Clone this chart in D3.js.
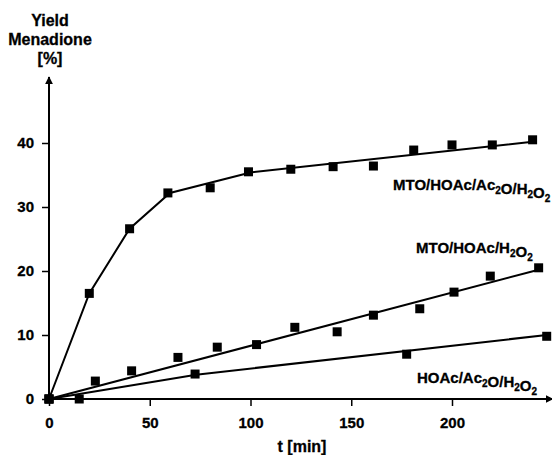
<!DOCTYPE html>
<meta charset="utf-8">
<style>
body { margin: 0; background: #fff; }
text { font-family: "Liberation Sans", Arial, sans-serif; font-weight: bold; fill: #000; stroke: #000; stroke-width: 0.3px; }
.fit { fill: none; stroke: #000; stroke-width: 2px; }
.tick line { stroke: #000; stroke-width: 1.5px; }
</style>
<body>
<script src="https://cdnjs.cloudflare.com/ajax/libs/d3/7.8.5/d3.min.js"></script>
<script>

// ---- data ----
// MTO/HOAc/Ac2O/H2O2
var t1 = [0, 20, 40, 59, 80, 99, 120, 141, 161, 181, 200, 220, 240];
var y1 = [0, 16.5, 26.6, 32.2, 33.0, 35.5, 35.9, 36.3, 36.4, 38.9, 39.7, 39.7, 40.5];
var fitT1 = [0, 20, 40, 60, 100, 240];
var fitY1 = [0, 16.5, 26.6, 32.2, 35.4, 40.2];

// MTO/HOAc/H2O2
var t2 = [0, 23, 41, 64, 83.5, 103, 122, 143, 161, 184, 201, 219, 243];
var y2 = [0, 2.8, 4.4, 6.5, 8.1, 8.5, 11.2, 10.5, 13.1, 14.1, 16.7, 19.2, 20.5];
var fitT2 = [0, 243];
var fitY2 = [0, 20.2];

// HOAc/Ac2O/H2O2
var t3 = [0, 15, 72.5, 177.5, 247];
var y3 = [0, 0, 3.9, 7.0, 9.8];
var fitT3 = [0, 73, 247];
var fitY3 = [0, 3.8, 10.0];

var xTicks = [0, 50, 100, 150, 200];
var yTicks = [0, 10, 20, 30, 40];

var width = 552, height = 455;

var svg = d3.select("body").append("svg")
    .attr("width", width)
    .attr("height", height);

var x = d3.scaleLinear().domain([0, 200]).range([49, 452]);
var y = d3.scaleLinear().domain([0, 40]).range([399, 143]);

// arrow head
svg.append("defs").append("marker")
    .attr("id", "arrow")
    .attr("viewBox", "0 0 10 10")
    .attr("refX", 9).attr("refY", 5)
    .attr("markerWidth", 4).attr("markerHeight", 4)
    .attr("markerUnits", "strokeWidth")
    .attr("orient", "auto")
  .append("path")
    .attr("d", "M0,0 L10,5 L0,10 z")
    .attr("fill", "#000");

// axes with ticks
var xAxis = svg.append("g")
    .attr("transform", "translate(0," + y(0) + ")")
    .call(d3.axisBottom(x).tickValues(xTicks).tickSize(7).tickPadding(11));
var yAxis = svg.append("g")
    .attr("transform", "translate(" + x(0) + ",0)")
    .call(d3.axisLeft(y).tickValues(yTicks).tickSize(7).tickPadding(8));
xAxis.select(".domain").remove();
yAxis.select(".domain").remove();
svg.selectAll(".tick text")
    .style("font-size", "15px")
    .style("font-family", "'Liberation Sans', Arial, sans-serif")
    .style("font-weight", "bold")
    .attr("fill", "#000");

// axis lines with arrows
svg.append("line")
    .attr("x1", x(0)).attr("y1", y(0))
    .attr("x2", x(250)).attr("y2", y(0))
    .attr("stroke", "#000").attr("stroke-width", 2)
    .attr("marker-end", "url(#arrow)");
svg.append("line")
    .attr("x1", x(0)).attr("y1", y(0))
    .attr("x2", x(0)).attr("y2", y(50.3))
    .attr("stroke", "#000").attr("stroke-width", 2)
    .attr("marker-end", "url(#arrow)");

// fitted lines
var line = d3.line()
    .x(function(d) { return x(d[0]); })
    .y(function(d) { return y(d[1]); });

function drawSeries(ts, ys, ft, fy) {
    svg.append("path")
        .datum(d3.zip(ft, fy))
        .attr("class", "fit")
        .attr("d", line);
    svg.append("g").selectAll("rect")
        .data(d3.zip(ts, ys))
        .enter().append("rect")
        .attr("x", function(d) { return x(d[0]) - 4.5; })
        .attr("y", function(d) { return y(d[1]) - 4.5; })
        .attr("width", 9)
        .attr("height", 9)
        .attr("fill", "#000");
}
drawSeries(t3, y3, fitT3, fitY3);
drawSeries(t2, y2, fitT2, fitY2);
drawSeries(t1, y1, fitT1, fitY1);

// labels with subscripts
function chemLabel(xp, yp, parts) {
    var t = svg.append("text")
        .attr("x", xp).attr("y", yp)
        .style("font-size", "15px");
    parts.forEach(function(p) {
        if (p.sub) {
            t.append("tspan").attr("dy", 4).style("font-size", "10px").text(p.sub);
            t.append("tspan").attr("dy", -4).text("");
        } else {
            t.append("tspan").text(p.txt);
        }
    });
}
chemLabel(393, 190, [{txt: "MTO/HOAc/Ac"}, {sub: "2"}, {txt: "O/H"}, {sub: "2"}, {txt: "O"}, {sub: "2"}]);
chemLabel(416, 253, [{txt: "MTO/HOAc/H"}, {sub: "2"}, {txt: "O"}, {sub: "2"}]);
chemLabel(417, 383, [{txt: "HOAc/Ac"}, {sub: "2"}, {txt: "O/H"}, {sub: "2"}, {txt: "O"}, {sub: "2"}]);

// axis titles
var yt = svg.append("text")
    .attr("text-anchor", "middle")
    .style("font-size", "16px");
yt.append("tspan").attr("x", 50).attr("y", 26).text("Yield");
yt.append("tspan").attr("x", 50).attr("y", 45).text("Menadione");
yt.append("tspan").attr("x", 50).attr("y", 64).text("[%]");

svg.append("text")
    .attr("x", 302).attr("y", 452)
    .attr("text-anchor", "middle")
    .style("font-size", "16px")
    .text("t [min]");

</script>
</body>
